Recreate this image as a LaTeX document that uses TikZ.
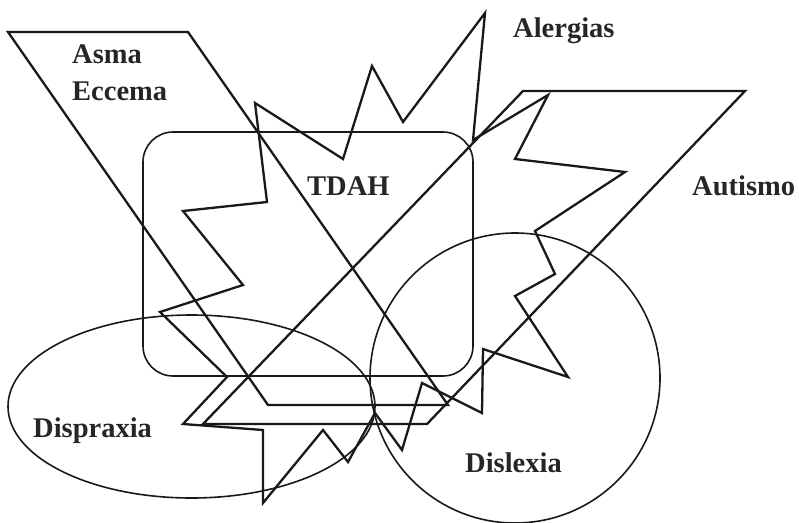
\documentclass[tikz,border=0pt]{standalone}
\usepackage{fontspec}
\setmainfont{Liberation Serif}
\begin{document}
\begin{tikzpicture}[x=1pt,y=-1pt,
  thick shape/.style={draw=black!90, line width=2.3pt, line join=miter},
  thin shape/.style={draw=black!90, line width=1.6pt},
  lbl/.style={anchor=base west, inner sep=0pt, font=\bfseries\fontsize{28.5}{31}\selectfont, text=black!85}]
\useasboundingbox (0,0) rectangle (799,522);
% Asma parallelogram
\draw[thick shape] (8,32) -- (188,32) -- (448,405) -- (268,405) -- cycle;
% Autismo parallelogram
\draw[thick shape] (523,91) -- (745,91) -- (427,424) -- (203,424) -- cycle;
% TDAH rounded rectangle
\draw[thin shape, rounded corners=30pt] (143,132) rectangle (473,376);
% Dispraxia ellipse
\draw[thin shape] (191.5,406.5) ellipse [x radius=183.5, y radius=91.5];
% Dislexia circle
\draw[thin shape] (515,378) circle [radius=145];
% Alergias star
\draw[thick shape] (255,103) -- (343,159) -- (372,66) -- (403,122) -- (485,13)
  -- (473,140) -- (548,95) -- (515,159) -- (625,172) -- (535,231) -- (555,274)
  -- (515,296) -- (568,377) -- (483,349) -- (482,413) -- (422,383) -- (402,450)
  -- (375,413) -- (348,462) -- (323,430) -- (263,503) -- (263,430) -- (183,424)
  -- (227,377) -- (160,312) -- (243,285) -- (183,211) -- (267,202) -- cycle;
% labels
\node[lbl] (asma) at (72,63) {Asma};
\node[lbl] (eccema) at (72,100) {Eccema};
\node[lbl] (tdah) at (307,195) {TDAH};
\node[lbl] (alergias) at (513,37) {Alergias};
\node[lbl] (autismo) at (692,195) {Autismo};
\node[lbl] (dispraxia) at (33,437) {Dispraxia};
\node[lbl] (dislexia) at (465,472) {Dislexia};
\end{tikzpicture}
\end{document}
